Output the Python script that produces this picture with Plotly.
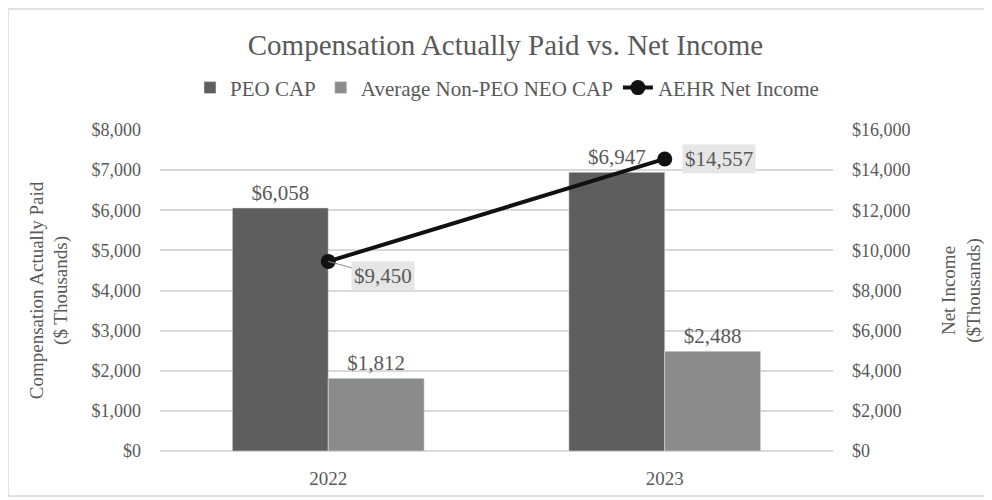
import plotly.graph_objects as go

years = ["2022", "2023"]
peo_cap = [6058, 6947]
neo_cap = [1812, 2488]
net_income = [9450, 14557]

FONT = "Liberation Serif, Times New Roman, serif"
GREY = "#595959"
LBL = 21

fig = go.Figure()
fig.add_trace(go.Bar(
    x=years, y=peo_cap, name="PEO CAP", marker_color="#5e5e5e",
    text=[f"${v:,}" for v in peo_cap], textposition="outside",
    textfont=dict(size=LBL, color=GREY, family=FONT), cliponaxis=False,
))
fig.add_trace(go.Bar(
    x=years, y=neo_cap, name="Average Non-PEO NEO CAP", marker_color="#8b8b8b",
    text=[f"${v:,}" for v in neo_cap], textposition="outside",
    textfont=dict(size=LBL, color=GREY, family=FONT), cliponaxis=False,
))
fig.add_trace(go.Scatter(
    x=years, y=net_income, name="AEHR Net Income", yaxis="y2",
    mode="lines+markers", line=dict(color="#111111", width=4),
    marker=dict(color="#111111", size=15), cliponaxis=False,
))

# data labels for line (category index positions on the x axis)
label_style = [dict(showarrow=True, ax=55, ay=15, arrowhead=0, arrowcolor="#8c8c8c", arrowwidth=1),
               dict(showarrow=False, xshift=54)]
for i, (v, st) in enumerate(zip(net_income, label_style)):
    fig.add_annotation(x=i, y=v, xref="x", yref="y2", text=f"${v:,}",
                       bgcolor="#e6e6e6", font=dict(size=LBL, color=GREY, family=FONT),
                       borderpad=2, **st)

# chart border
fig.add_shape(type="rect", xref="paper", yref="paper", x0=-0.2259, x1=1.233, y0=-0.14, y1=1.377,
              line=dict(color="#d9d9d9", width=1.5))

fig.update_layout(
    width=992, height=500,
    margin=dict(l=152, r=167, t=122, b=57, autoexpand=False),
    paper_bgcolor="white", plot_bgcolor="white",
    font=dict(family=FONT, color=GREY, size=16),
    title=dict(text="Compensation Actually Paid vs. Net Income", x=0.5015, xanchor="center",
               y=0.926, yanchor="middle", font=dict(size=29, color=GREY, family=FONT)),
    barmode="group", bargap=0.43, bargroupgap=0,
    showlegend=True,
    legend=dict(orientation="h", x=0.5156, xanchor="center", y=1.131, yanchor="middle",
                font=dict(size=21, color=GREY, family=FONT), itemwidth=30,
                traceorder="normal"),
    xaxis=dict(type="category", range=[-0.5, 1.5], tickfont=dict(size=19, color=GREY, family=FONT),
               showline=False, ticks="", showgrid=False, ticklabelstandoff=14, automargin=False),
    yaxis=dict(range=[0, 8000], dtick=1000, tickprefix="$", tickformat=",",
               showgrid=True, gridcolor="#d9d9d9", gridwidth=1.5, zeroline=True,
               zerolinecolor="#d9d9d9", zerolinewidth=1.5, automargin=False,
               tickfont=dict(size=18, color=GREY, family=FONT), ticklabelstandoff=18,
               title=dict(text="Compensation Actually Paid<br>($ Thousands)",
                          font=dict(size=19, color=GREY, family=FONT), standoff=18)),
    yaxis2=dict(range=[0, 16000], dtick=2000, tickprefix="$", tickformat=",",
                overlaying="y", side="right", showgrid=False, zeroline=False, automargin=False,
                tickfont=dict(size=18, color=GREY, family=FONT), ticklabelstandoff=18,
                title=dict(text="Net Income<br>($Thousands)",
                           font=dict(size=19, color=GREY, family=FONT), standoff=32)),
)

fig.write_html("out.html")
